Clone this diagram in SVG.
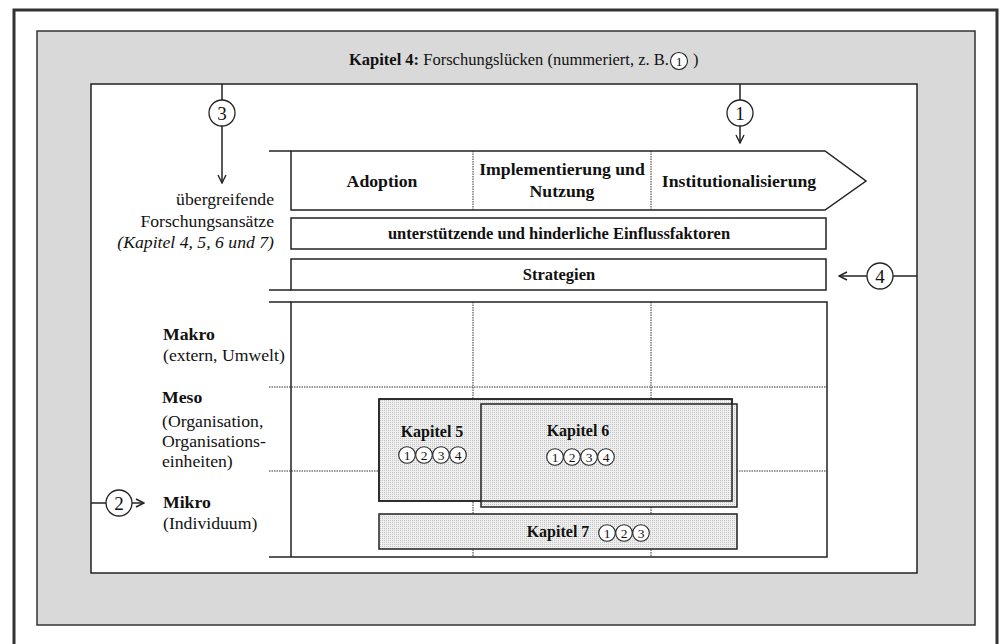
<svg xmlns="http://www.w3.org/2000/svg" width="1000" height="644" viewBox="0 0 1000 644">
  <defs>
    <pattern id="stipple" width="2" height="2" patternUnits="userSpaceOnUse">
      <rect width="2" height="2" fill="#efefef"/>
      <rect width="1" height="1" fill="#c4c4c4"/>
    </pattern>
    <marker id="vee" viewBox="0 0 10 10" refX="9" refY="5" markerWidth="10" markerHeight="10" markerUnits="userSpaceOnUse" orient="auto">
      <path d="M1,1 L9,5 L1,9" fill="none" stroke="#222" stroke-width="1.4"/>
    </marker>
    <style>
      text { font-family: "Liberation Serif", "Times New Roman", serif; fill: #111; }
      .b { font-weight: bold; }
      .it { font-style: italic; }
      .box { fill: #fff; stroke: #222; stroke-width: 1.5; }
      .chap { fill: url(#stipple); stroke: #222; stroke-width: 1.5; }
      .chapline { fill: none; stroke: #222; stroke-width: 1.5; }
      .dot { fill: none; stroke: #333; stroke-width: 1; stroke-dasharray: 1.5 1; }
      .line { fill: none; stroke: #222; stroke-width: 1.5; }
      .arrow { fill: none; stroke: #222; stroke-width: 1.5; marker-end: url(#vee); }
      .num { fill: #fff; stroke: #222; stroke-width: 1.3; }
      .numsm { fill: #fff; stroke: #222; stroke-width: 1.1; }
      .lab { font-size: 17.7px; }
      .h { font-size: 17.7px; text-anchor: middle; font-weight: bold; }
      .bar { font-size: 16.5px; text-anchor: middle; font-weight: bold; }
      .kap { font-size: 16px; text-anchor: middle; font-weight: bold; }
      .d { font-size: 19px; text-anchor: middle; }
      .ds { font-size: 13.5px; text-anchor: middle; }
    </style>
  </defs>

  <!-- outer frame -->
  <rect x="14" y="10" width="983" height="660" fill="#fff" stroke="#333" stroke-width="3"/>
  <!-- grey band: chapter 4 -->
  <rect x="37" y="31" width="938" height="594" fill="#d9d9d9" stroke="#333" stroke-width="1.5"/>
  <text x="349" y="65" font-size="16.5"><tspan class="b">Kapitel 4:</tspan> Forschungslücken (nummeriert, z. B.</text>
  <circle class="numsm" cx="679" cy="61" r="8.5"/>
  <text x="679" y="65.8" class="ds">1</text>
  <text x="693" y="65" font-size="16.5">)</text>

  <!-- inner white field -->
  <rect x="91" y="84" width="826" height="489" class="box"/>

  <!-- grid lines of the levels area -->
  <g id="grid">
    <line class="dot" x1="269" y1="387" x2="827" y2="387"/>
    <line class="dot" x1="269" y1="471" x2="827" y2="471"/>
    <line class="dot" x1="473" y1="302" x2="473" y2="557"/>
    <line class="dot" x1="651" y1="302" x2="651" y2="557"/>
  </g>

  <!-- phase arrow -->
  <g id="phases">
    <path class="box" d="M291,151 L825,151 L866,181 L825,210 L291,210 Z"/>
    <line class="dot" x1="473" y1="151" x2="473" y2="210"/>
    <line class="dot" x1="651" y1="151" x2="651" y2="210"/>
    <text x="382" y="187" class="h">Adoption</text>
    <text x="562" y="175" class="h">Implementierung und</text>
    <text x="562" y="197" class="h">Nutzung</text>
    <text x="739" y="187" class="h">Institutionalisierung</text>
  </g>

  <g id="einfluss">
    <rect x="291" y="218" width="535" height="31" class="box"/>
    <text x="559" y="239" class="bar">unterstützende und hinderliche Einflussfaktoren</text>
  </g>

  <g id="strategien">
    <rect x="291" y="259" width="535" height="31" class="box"/>
    <text x="559" y="280" class="bar">Strategien</text>
  </g>

  <!-- brackets -->
  <g id="brackets">
    <line class="line" x1="269" y1="151" x2="291" y2="151"/>
    <line class="line" x1="269" y1="290" x2="291" y2="290"/>
    <line class="line" x1="269" y1="302" x2="291" y2="302"/>
    <line class="line" x1="269" y1="557" x2="291" y2="557"/>
  </g>

  <g id="uebergreifend">
    <text x="274" y="205" class="lab" text-anchor="end">übergreifende</text>
    <text x="274" y="227" class="lab" text-anchor="end">Forschungsansätze</text>
    <text x="274" y="248" class="lab it" text-anchor="end">(Kapitel 4, 5, 6 und 7)</text>
  </g>

  <!-- levels frame -->
  <g id="levels">
    <path class="line" d="M291,557 L291,302 L827,302 L827,557 L291,557"/>
    <text x="163" y="340" class="lab b">Makro</text>
    <text x="163" y="361" class="lab">(extern, Umwelt)</text>
    <text x="162" y="403" class="lab b">Meso</text>
    <text x="162" y="427" class="lab">(Organisation,</text>
    <text x="162" y="447" class="lab">Organisations-</text>
    <text x="162" y="467" class="lab">einheiten)</text>
    <text x="163" y="508" class="lab b">Mikro</text>
    <text x="163" y="529" class="lab">(Individuum)</text>
  </g>

  <!-- chapter blocks -->
  <g id="kapitel5">
    <rect x="379" y="399" width="353" height="102" class="chap"/>
  </g>
  <g id="kapitel6">
    <rect x="481" y="404" width="256" height="103" class="chap"/>
    <rect x="379" y="399" width="353" height="102" class="chapline"/>
  </g>
  <g id="kapitel7">
    <rect x="379" y="514" width="358" height="35" class="chap"/>
  </g>

  <g id="kapitel5-label">
    <text x="432" y="437" class="kap">Kapitel 5</text>
    <circle class="numsm" cx="407" cy="455" r="8.3"/>
    <circle class="numsm" cx="424" cy="455" r="8.3"/>
    <circle class="numsm" cx="441" cy="455" r="8.3"/>
    <circle class="numsm" cx="458" cy="455" r="8.3"/>
    <text x="407" y="459.7" class="ds">1</text>
    <text x="424" y="459.7" class="ds">2</text>
    <text x="441" y="459.7" class="ds">3</text>
    <text x="458" y="459.7" class="ds">4</text>
  </g>

  <g id="kapitel6-label">
    <text x="578" y="436" class="kap">Kapitel 6</text>
    <circle class="numsm" cx="555" cy="457" r="8.3"/>
    <circle class="numsm" cx="572" cy="457" r="8.3"/>
    <circle class="numsm" cx="589" cy="457" r="8.3"/>
    <circle class="numsm" cx="606" cy="457" r="8.3"/>
    <text x="555" y="461.7" class="ds">1</text>
    <text x="572" y="461.7" class="ds">2</text>
    <text x="589" y="461.7" class="ds">3</text>
    <text x="606" y="461.7" class="ds">4</text>
  </g>

  <g id="kapitel7-label">
    <text x="558" y="537" class="kap">Kapitel 7</text>
    <circle class="numsm" cx="607" cy="533" r="8.3"/>
    <circle class="numsm" cx="624" cy="533" r="8.3"/>
    <circle class="numsm" cx="641" cy="533" r="8.3"/>
    <text x="607" y="537.7" class="ds">1</text>
    <text x="624" y="537.7" class="ds">2</text>
    <text x="641" y="537.7" class="ds">3</text>
  </g>

  <!-- research gap connectors -->
  <g id="connectors">
    <line class="line" x1="222" y1="84" x2="222" y2="100"/>
    <line class="arrow" x1="222" y1="126" x2="222" y2="183"/>
    <line class="line" x1="740" y1="84" x2="740" y2="100"/>
    <line class="arrow" x1="740" y1="126" x2="740" y2="143"/>
    <line class="line" x1="91" y1="503" x2="106" y2="503"/>
    <line class="arrow" x1="132" y1="503" x2="144" y2="503"/>
    <line class="line" x1="917" y1="276" x2="893" y2="276"/>
    <line class="arrow" x1="867" y1="276" x2="839" y2="276"/>
  </g>

  <g id="gap3">
    <circle class="num" cx="222" cy="113" r="13"/>
    <text x="222" y="119.5" class="d">3</text>
  </g>
  <g id="gap1">
    <circle class="num" cx="740" cy="113" r="13"/>
    <text x="740" y="119.5" class="d">1</text>
  </g>
  <g id="gap2">
    <circle class="num" cx="119" cy="503" r="13"/>
    <text x="119" y="509.5" class="d">2</text>
  </g>
  <g id="gap4">
    <circle class="num" cx="880" cy="276" r="13"/>
    <text x="880" y="282.5" class="d">4</text>
  </g>
</svg>
